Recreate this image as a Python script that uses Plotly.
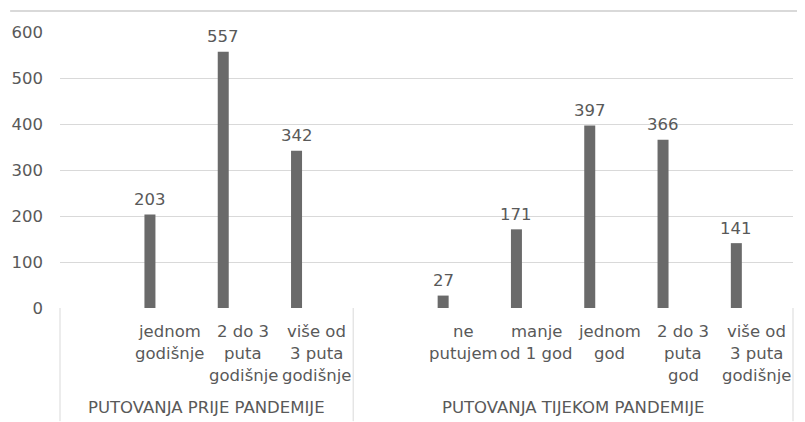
import plotly.graph_objects as go

groups = ["PUTOVANJA PRIJE PANDEMIJE"] * 4 + ["PUTOVANJA TIJEKOM PANDEMIJE"] * 6
categories = ["", "jednom\ngodišnje", "2 do 3\nputa\ngodišnje", "više od\n3 puta\ngodišnje",
              "", "ne\nputujem", "manje\nod 1 god", "jednom\ngod", "2 do 3\nputa\ngod",
              "više od\n3 puta\ngodišnje"]
values = [None, 203, 557, 342, None, 27, 171, 397, 366, 141]
y_ticks = [0, 100, 200, 300, 400, 500, 600]

FONT = "DejaVu Sans"
SIZE = 16.5
GRAY = "#595959"
LINE = "#d9d9d9"

n = len(categories)
xs = list(range(n))

fig = go.Figure()
fig.add_trace(go.Bar(
    x=xs,
    y=values,
    width=0.15,
    offset=-0.348,
    marker=dict(color="#6a6a6a", line=dict(width=0)),
    hoverinfo="y",
))

annotations = []
# data labels
for x, v in zip(xs, values):
    if v is None:
        continue
    annotations.append(dict(x=x - 0.273, y=v, xref="x", yref="y", text=str(v), showarrow=False,
                            yanchor="middle", xanchor="center", yshift=15,
                            font=dict(family=FONT, size=SIZE, color=GRAY)))
# category labels
row_shift = [-23, -45.5, -67.5]
for x, c in zip(xs, categories):
    if not c:
        continue
    for k, line in enumerate(c.split("\n")):
        annotations.append(dict(x=x, y=0, xref="x", yref="y", text=line, showarrow=False,
                                yanchor="middle", xanchor="center", yshift=row_shift[k],
                                font=dict(family=FONT, size=SIZE, color=GRAY)))
# group labels and dividers
shapes = []
bounds = [0]
for i in range(1, n):
    if groups[i] != groups[i - 1]:
        bounds.append(i)
bounds.append(n)
for a, b in zip(bounds[:-1], bounds[1:]):
    annotations.append(dict(x=(a + b - 1) / 2, y=0, xref="x", yref="y", text=groups[a], showarrow=False,
                            yanchor="middle", xanchor="center", yshift=-99,
                            font=dict(family=FONT, size=SIZE, color=GRAY)))
for b in bounds:
    xp = b / n
    shapes.append(dict(type="line", xref="paper", yref="paper", x0=xp, x1=xp, y0=0, y1=-0.41,
                       line=dict(color=LINE, width=1)))
# outer top border
shapes.append(dict(type="line", xref="paper", yref="paper", x0=-0.068, x1=1.02, y0=1.076, y1=1.076,
                   line=dict(color=LINE, width=2)))

fig.update_layout(
    width=797, height=414,
    margin=dict(l=52, r=12, t=24, b=114, autoexpand=False),
    paper_bgcolor="white", plot_bgcolor="white",
    showlegend=False,
    font=dict(family=FONT, size=SIZE, color=GRAY),
    xaxis=dict(range=[-0.5, n - 0.5], showgrid=False, zeroline=False, showline=False,
               showticklabels=False, ticks="", automargin=False, fixedrange=True),
    yaxis=dict(range=[0, 600], tickvals=y_ticks, showgrid=True, gridcolor=LINE, gridwidth=1,
               zeroline=False, showline=False, ticklabelstandoff=16, automargin=False,
               tickfont=dict(family=FONT, size=SIZE, color=GRAY)),
    annotations=annotations,
    shapes=shapes,
)

fig.write_html("out.html")
